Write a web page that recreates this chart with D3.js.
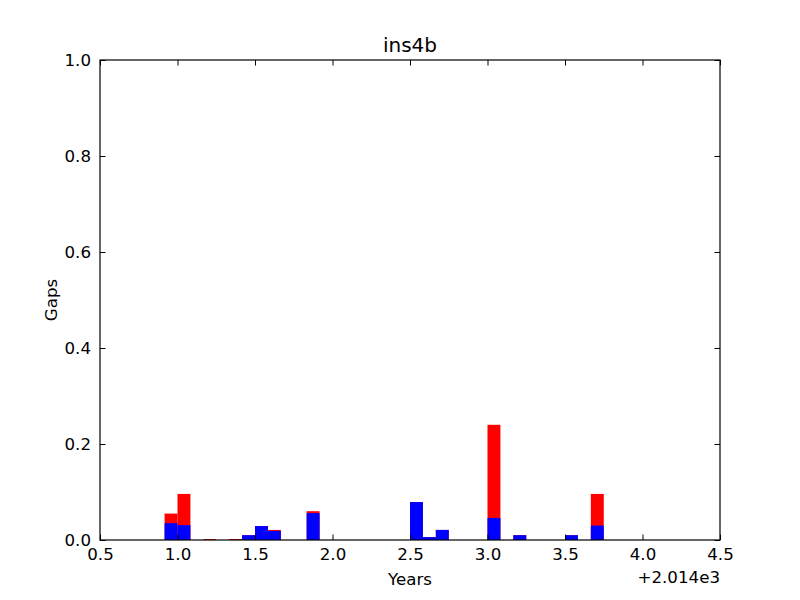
<!DOCTYPE html>
<html><head><meta charset="utf-8">
<script src="https://cdn.jsdelivr.net/npm/d3@7"></script>
<style>body{margin:0;background:#fff}</style>
</head><body>
<svg id="c" width="800" height="600"></svg>
<script>
// month start positions (years offset from 2014) and gap values
const months = [0.9167, 1.0, 1.1667, 1.3333, 1.4167, 1.5, 1.5833, 1.8333, 2.5, 2.5833, 2.6667, 3.0, 3.1667, 3.5, 3.6667];
const redValues  = [0.055, 0.096, 0.002, 0.002, 0.010, 0.029, 0.021, 0.060, 0.079, 0.006, 0.021, 0.240, 0.010, 0.010, 0.096];
const blueValues = [0.035, 0.031, 0.000, 0.000, 0.010, 0.029, 0.019, 0.056, 0.079, 0.006, 0.021, 0.046, 0.010, 0.010, 0.030];
const barWidth = 1/12;
const xTicks = [0.5, 1.0, 1.5, 2.0, 2.5, 3.0, 3.5, 4.0, 4.5];
const yTicks = [0.0, 0.2, 0.4, 0.6, 0.8, 1.0];

const svg = d3.select("#c");
const L = 100, R = 720, T = 60, B = 540;
const x = d3.scaleLinear().domain([0.5, 4.5]).range([L, R]);
const y = d3.scaleLinear().domain([0, 1]).range([B, T]);
const font = "DejaVu Sans, sans-serif";

const data = months.map((m, i) => ({m, r: redValues[i], b: blueValues[i]}));
const g = svg.append("g");
g.selectAll("rect.red").data(data).join("rect")
  .attr("x", d => x(d.m)).attr("width", d => x(d.m + barWidth) - x(d.m))
  .attr("y", d => y(d.r)).attr("height", d => y(0) - y(d.r)).attr("fill", "#ff0000");
g.selectAll("rect.blue").data(data.filter(d => d.b > 0)).join("rect")
  .attr("x", d => x(d.m)).attr("width", d => x(d.m + barWidth) - x(d.m))
  .attr("y", d => y(d.b)).attr("height", d => y(0) - y(d.b)).attr("fill", "#0000ff");

const tl = 5.5;
function style(ax){
  ax.select(".domain").remove();
  ax.selectAll("text").attr("font-family", font).attr("font-size", "16.67px").attr("fill", "#000");
  ax.selectAll("line").attr("stroke", "#000");
}
svg.append("g").attr("transform", `translate(0,${B})`)
  .call(d3.axisBottom(x).tickValues(xTicks).tickFormat(d3.format(".1f")).tickSizeInner(-tl).tickPadding(8))
  .call(style);
svg.append("g").attr("transform", `translate(0,${T})`)
  .call(d3.axisTop(x).tickValues(xTicks).tickFormat("").tickSizeInner(-tl))
  .call(style);
svg.append("g").attr("transform", `translate(${L},0)`)
  .call(d3.axisLeft(y).tickValues(yTicks).tickFormat(d3.format(".1f")).tickSizeInner(-tl).tickPadding(9))
  .call(style);
svg.append("g").attr("transform", `translate(${R},0)`)
  .call(d3.axisRight(y).tickValues(yTicks).tickFormat("").tickSizeInner(-tl))
  .call(style);

svg.append("rect").attr("x", L).attr("y", T).attr("width", R - L).attr("height", B - T)
  .attr("fill", "none").attr("stroke", "#000").attr("stroke-width", 1.2);

svg.append("text").attr("x", (L + R) / 2).attr("y", 52).attr("text-anchor", "middle")
  .attr("font-family", font).attr("font-size", "20px").text("ins4b");
svg.append("text").attr("x", (L + R) / 2).attr("y", 585).attr("text-anchor", "middle")
  .attr("font-family", font).attr("font-size", "16.67px").text("Years");
svg.append("text").attr("transform", "translate(57,300) rotate(-90)").attr("text-anchor", "middle")
  .attr("font-family", font).attr("font-size", "16.67px").text("Gaps");
svg.append("text").attr("x", R).attr("y", 583).attr("text-anchor", "end")
  .attr("font-family", font).attr("font-size", "16.67px").text("+2.014e3");
</script>
</body></html>
